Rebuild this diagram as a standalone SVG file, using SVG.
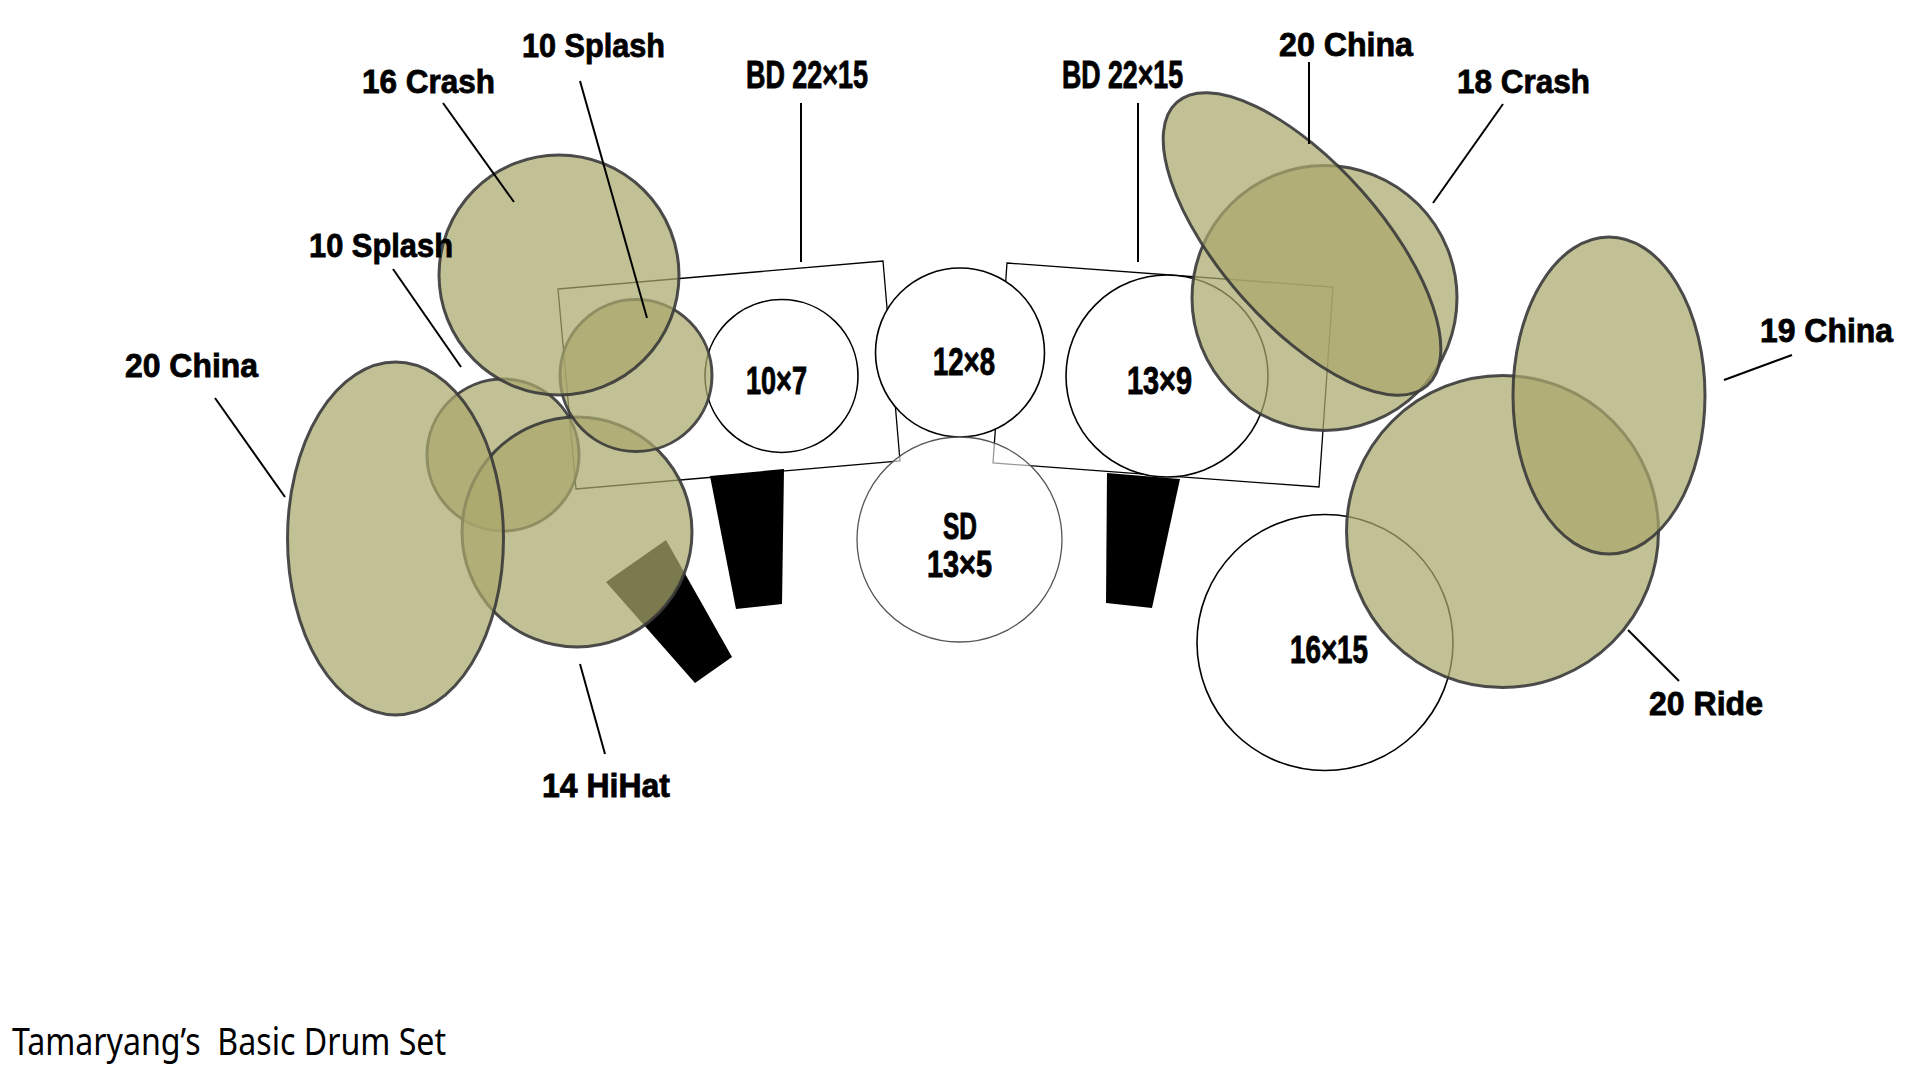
<svg xmlns="http://www.w3.org/2000/svg" width="1920" height="1080" viewBox="0 0 1920 1080">
<style>
.bg{fill:#ffffff}
.shell{fill:#ffffff;stroke:#000;stroke-width:1.3}
.drum{fill:#ffffff;stroke:#000;stroke-width:1.6}
.snare{fill:#ffffff;fill-opacity:0.6;stroke:#555;stroke-width:1.3}
.pedal{fill:#000}
.cym{fill:#aba76c;fill-opacity:0.72;stroke:#3a3a3a;stroke-opacity:0.9;stroke-width:3}
.lbl{font-family:"Liberation Sans",Arial,sans-serif;font-weight:bold;font-size:33px;fill:#000;stroke:#000;stroke-width:0.8}
.sz{font-family:"Liberation Sans",Arial,sans-serif;font-weight:bold;font-size:38px;fill:#000;stroke:#000;stroke-width:0.9}
.sd{font-size:36px}
.ttl{font-family:"Noto Sans","Noto Sans CJK SC",sans-serif;font-size:38px;fill:#000;white-space:pre}
.lead{stroke:#000;stroke-width:2;fill:none}
</style>
<rect class="bg" x="0" y="0" width="1920" height="1080"/>

<g id="bass-drum-left"><polygon class="shell" points="558,289 883,261 900,461 576,489"/></g>
<g id="bass-drum-right"><polygon class="shell" points="1007,263 1333,287 1319,487 993,463"/></g>

<g id="pedal-left"><polygon class="pedal" points="710,476 784,469 782,604 736,609"/></g>
<g id="pedal-right"><polygon class="pedal" points="1107,473 1180,479 1152,608 1106,603"/></g>
<g id="pedal-hihat"><polygon class="pedal" points="606,582 666,540 732,657 695,683"/></g>

<g id="tom-10x7"><circle class="drum" cx="781.5" cy="376" r="76.5"/><text class="sz" x="746" y="394" textLength="61" lengthAdjust="spacingAndGlyphs">10×7</text></g>
<g id="tom-12x8"><circle class="drum" cx="960" cy="352.5" r="84.5"/><text class="sz" x="933" y="375" textLength="62" lengthAdjust="spacingAndGlyphs">12×8</text></g>
<g id="tom-13x9"><circle class="drum" cx="1167" cy="376" r="101"/><text class="sz" x="1127" y="394" textLength="65" lengthAdjust="spacingAndGlyphs">13×9</text></g>
<g id="snare"><circle class="snare" cx="959.5" cy="539.5" r="102.5"/><text class="sz sd" x="943" y="539" textLength="34" lengthAdjust="spacingAndGlyphs">SD</text><text class="sz sd" x="927" y="577" textLength="65" lengthAdjust="spacingAndGlyphs">13×5</text></g>
<g id="floor-tom"><circle class="drum" cx="1325" cy="642.5" r="128"/><text class="sz" x="1290" y="663" textLength="78" lengthAdjust="spacingAndGlyphs">16×15</text></g>

<g id="ride-20"><circle class="cym" cx="1502.5" cy="531.5" r="156"/></g>
<g id="china-19"><ellipse class="cym" cx="1609" cy="395.5" rx="96" ry="158.5"/></g>
<g id="crash-18"><circle class="cym" cx="1324.5" cy="298" r="132.5"/></g>
<g id="china-20-right"><ellipse class="cym" cx="0" cy="0" rx="189" ry="80" transform="translate(1302 244) rotate(48.5)"/></g>
<g id="splash-10-left"><circle class="cym" cx="503" cy="455" r="76"/></g>
<g id="hihat-14"><circle class="cym" cx="577" cy="532" r="115"/></g>
<g id="china-20-left"><ellipse class="cym" cx="395.5" cy="538.5" rx="108" ry="176.5"/></g>
<g id="splash-10-top"><circle class="cym" cx="636" cy="375.5" r="76"/></g>
<g id="crash-16"><circle class="cym" cx="559" cy="275" r="120"/></g>

<g id="connectors">
<line class="lead" x1="443" y1="103" x2="514" y2="202"/>
<line class="lead" x1="580" y1="81" x2="647" y2="318"/>
<line class="lead" x1="393" y1="269" x2="461" y2="367"/>
<line class="lead" x1="215" y1="398" x2="285" y2="497"/>
<line class="lead" x1="580" y1="664" x2="605" y2="754"/>
<line class="lead" x1="801" y1="103" x2="801" y2="262"/>
<line class="lead" x1="1138" y1="103" x2="1138" y2="262"/>
<line class="lead" x1="1309" y1="62" x2="1309" y2="144"/>
<line class="lead" x1="1503" y1="104" x2="1433" y2="203"/>
<line class="lead" x1="1792" y1="355" x2="1724" y2="380"/>
<line class="lead" x1="1628" y1="630" x2="1679" y2="681"/>
</g>

<g id="labels">
<text class="lbl" x="362" y="93" textLength="133" lengthAdjust="spacingAndGlyphs">16 Crash</text>
<text class="lbl" x="522" y="57" textLength="143" lengthAdjust="spacingAndGlyphs">10 Splash</text>
<text class="lbl" x="309" y="257" textLength="144" lengthAdjust="spacingAndGlyphs">10 Splash</text>
<text class="lbl" x="125" y="377" textLength="133" lengthAdjust="spacingAndGlyphs">20 China</text>
<text class="lbl" x="542" y="797" textLength="128" lengthAdjust="spacingAndGlyphs">14 HiHat</text>
<text class="sz" x="746" y="88" textLength="122" lengthAdjust="spacingAndGlyphs">BD 22×15</text>
<text class="sz" x="1062" y="88" textLength="121" lengthAdjust="spacingAndGlyphs">BD 22×15</text>
<text class="lbl" x="1279" y="56" textLength="134" lengthAdjust="spacingAndGlyphs">20 China</text>
<text class="lbl" x="1457" y="93" textLength="133" lengthAdjust="spacingAndGlyphs">18 Crash</text>
<text class="lbl" x="1760" y="342" textLength="133" lengthAdjust="spacingAndGlyphs">19 China</text>
<text class="lbl" x="1649" y="715" textLength="114" lengthAdjust="spacingAndGlyphs">20 Ride</text>
</g>

<g id="title"><text class="ttl" x="12" y="1055" textLength="434" lengthAdjust="spacingAndGlyphs" xml:space="preserve">Tamaryang’s  Basic Drum Set</text></g>
</svg>
